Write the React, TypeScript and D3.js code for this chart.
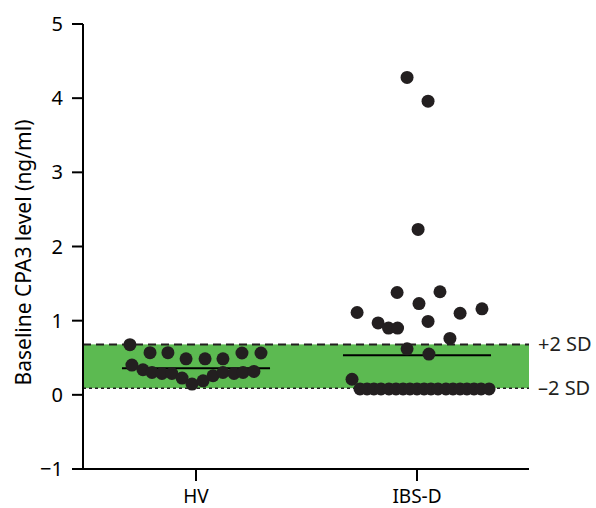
import React from "react";
import * as d3 from "d3";

// ---- data ----
const categories = ["HV", "IBS-D"];

// CPA3 level (ng/ml) for each subject
const hvValues = [
  0.676, 0.568, 0.568, 0.486, 0.486, 0.486, 0.564, 0.564,
  0.401, 0.338, 0.301, 0.288, 0.288, 0.226, 0.145, 0.189, 0.257, 0.301, 0.288, 0.301, 0.315,
];
// horizontal scatter offset within the category (category units)
const hvJitter = [
  -0.299, -0.208, -0.127, -0.045, 0.041, 0.122, 0.208, 0.294,
  -0.29, -0.24, -0.199, -0.154, -0.109, -0.063, -0.018, 0.032, 0.077, 0.122, 0.172, 0.213, 0.262,
];

const ibsValues = [
  4.28, 3.96, 2.23, 1.38, 1.39, 1.23, 1.11, 1.16, 1.1, 0.97, 0.9, 0.9, 0.99, 0.76, 0.62, 0.55, 0.21,
  0.08, 0.08, 0.08, 0.08, 0.08, 0.08, 0.08, 0.08, 0.08, 0.08, 0.08, 0.08, 0.08, 0.08, 0.08, 0.08, 0.08, 0.08, 0.08,
];
const ibsJitter = [
  -0.045, 0.05, 0.005, -0.09, 0.104, 0.009, -0.271, 0.294, 0.195, -0.176, -0.129, -0.088, 0.05, 0.149, -0.045, 0.054, -0.294,
  -0.258, -0.226, -0.195, -0.163, -0.127, -0.095, -0.063, -0.032, 0, 0.032, 0.063, 0.095, 0.131, 0.163, 0.195, 0.226, 0.258, 0.29, 0.326,
];

// central line drawn for each group
const groupLines = [0.36, 0.535];
const lineHalfWidth = 0.335; // category units

// reference band (±2 SD)
const sdUpper = 0.68;
const sdLower = 0.09;
const sdLabels = ["+2 SD", "\u20132 SD"];

const yTicks = [-1, 0, 1, 2, 3, 4, 5];
const yTitle = "Baseline CPA3 level (ng/ml)";

const FONT = "'Noto Sans', 'DejaVu Sans', sans-serif";

export default function App() {
  const W = 596;
  const H = 508;
  const axisX = 83;
  const axisRight = 529;
  const y = d3.scaleLinear().domain([-1, 5]).range([469, 24]);
  const x = d3.scaleLinear().domain([0, 1]).range([196, 417]);

  const groups = [
    { values: hvValues, jitter: hvJitter },
    { values: ibsValues, jitter: ibsJitter },
  ];

  const ink = "#231f20";

  return (
    <svg
      width={W}
      height={H}
      style={{ position: "absolute", left: 0, top: 0, background: "#fff" }}
      fontFamily={FONT}
    >
      {/* SD band */}
      <rect
        x={axisX}
        y={y(sdUpper)}
        width={axisRight - axisX}
        height={y(sdLower) - y(sdUpper)}
        fill="#5cba51"
      />
      <line
        x1={axisX}
        x2={axisRight}
        y1={y(sdUpper)}
        y2={y(sdUpper)}
        stroke={ink}
        strokeWidth={2}
        strokeDasharray="8,5"
      />
      <line
        x1={axisX}
        x2={axisRight}
        y1={y(sdLower)}
        y2={y(sdLower)}
        stroke={ink}
        strokeWidth={1.5}
        strokeDasharray="3,3"
      />
      <text x={538} y={y(sdUpper) + 7} fontSize={20} fill={ink}>
        {sdLabels[0]}
      </text>
      <text x={538} y={y(sdLower) + 7} fontSize={20} fill={ink}>
        {sdLabels[1]}
      </text>

      {/* group lines */}
      {groupLines.map((v, i) => (
        <line
          key={"gl" + i}
          x1={x(i - lineHalfWidth)}
          x2={x(i + lineHalfWidth)}
          y1={y(v)}
          y2={y(v)}
          stroke="#000"
          strokeWidth={2}
        />
      ))}

      {/* points */}
      {groups.map((g, gi) =>
        g.values.map((v, i) => (
          <circle
            key={gi + "-" + i}
            cx={x(gi + g.jitter[i])}
            cy={y(v)}
            r={6.5}
            fill={ink}
          />
        ))
      )}

      {/* y axis */}
      <line x1={axisX} x2={axisX} y1={y(5)} y2={y(-1)} stroke="#000" strokeWidth={2} />
      {yTicks.map((t) => (
        <g key={"yt" + t}>
          <line x1={axisX - 11} x2={axisX} y1={y(t)} y2={y(t)} stroke="#000" strokeWidth={2} />
          <text
            x={63}
            y={y(t) + 7}
            textAnchor="end"
            fontSize={20}
            fill="#000"
          >
            {t < 0 ? "\u2212" + Math.abs(t) : String(t)}
          </text>
        </g>
      ))}
      <text
        transform={`translate(31, ${(y(5) + y(-1)) / 2 + 6}) rotate(-90)`}
        textAnchor="middle"
        fontSize={21}
        fill="#000"
      >
        {yTitle}
      </text>

      {/* x axis */}
      <line x1={axisX - 11} x2={axisRight} y1={y(-1)} y2={y(-1)} stroke="#000" strokeWidth={2} />
      {categories.map((c, i) => (
        <g key={"xt" + c}>
          <line x1={x(i)} x2={x(i)} y1={y(-1)} y2={y(-1) + 12} stroke="#000" strokeWidth={2} />
          <text x={x(i)} y={503} textAnchor="middle" fontSize={19} fill="#000">
            {c}
          </text>
        </g>
      ))}
    </svg>
  );
}
